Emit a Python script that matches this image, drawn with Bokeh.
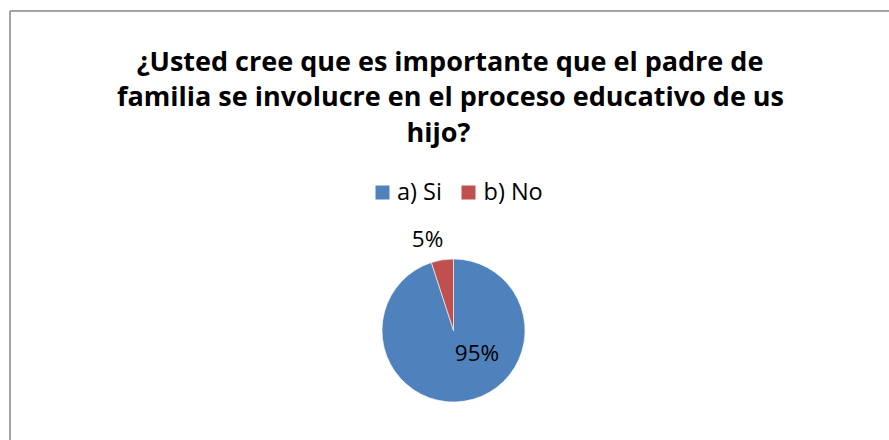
import numpy as np
from bokeh.plotting import figure
from bokeh.models import Range1d, ColumnDataSource
from bokeh.core.properties import value
from bokeh.embed import file_html
from bokeh.resources import INLINE

# ---- data ----
categories = ["a) Si", "b) No"]
percents = [95, 5]
colors = ["#4F81BD", "#C0504D"]
title_lines = [
    "¿Usted cree que es importante que el padre de",
    "familia se involucre en el proceso educativo de us",
    "hijo?",
]

FONT = "Open Sans"
W, H = 889, 440
p = figure(width=W, height=H, output_backend="svg", toolbar_location=None,
           x_range=Range1d(0, W), y_range=Range1d(0, H),
           min_border=0, outline_line_color=None)
p.axis.visible = False
p.grid.visible = False
p.background_fill_color = "white"
p.border_fill_color = "white"

def Y(img_y):
    return H - img_y

# chart area border (top & left visible, rest cut off by the window)
p.segment(x0=[9.5, 9.5], y0=[0, Y(10.5)], x1=[9.5, W], y1=[Y(10.5), Y(10.5)],
          line_color="#868686", line_width=1.5)

# title
title_x = [449.5, 450, 438]
title_base = [59.5, 95, 130.5]
for t, xx, yy in zip(title_lines, title_x, title_base):
    p.text(x=[xx], y=[Y(yy)], text=[t], text_font=value(FONT), text_font_style="bold",
           text_font_size="27px", text_align="center", text_baseline="alphabetic",
           text_color="black")

# pie
cx, cy, r = 453, Y(330), 71.5
vals = np.array(percents, dtype=float)
frac = vals / vals.sum()
ends = 2 * np.pi * np.cumsum(frac)
starts = np.concatenate([[0], ends[:-1]])
# clockwise from 12 o'clock
start_ang = np.pi / 2 - starts
end_ang = np.pi / 2 - ends
for i in range(len(categories)):
    src = ColumnDataSource(dict(x=[cx], y=[cy], s=[start_ang[i]], e=[end_ang[i]]))
    p.wedge(x="x", y="y", radius=r, radius_units="screen", start_angle="s", end_angle="e",
            direction="clock", fill_color=colors[i], line_color="white", line_width=0.6,
            source=src)

# data labels (Excel best-fit positions, offsets from pie centre)
label_offsets = [(23.5, -21.5), (-26, 92)]
lx = [cx + o[0] for o in label_offsets]
ly = [cy + o[1] for o in label_offsets]
labels = [f"{v}%" for v in percents]
p.text(x=lx, y=ly, text=labels, text_font=value(FONT), text_font_size="22.5px",
       text_align="center", text_baseline="alphabetic", text_color="black")

# legend (manual, Excel-like)
leg_sq_x = [382, 468]
leg_txt_x = [396.5, 483]
leg_y = 192
p.rect(x=leg_sq_x, y=[Y(leg_y)] * 2, width=14, height=14, width_units="screen",
       height_units="screen", fill_color=colors, line_color=None)
p.text(x=leg_txt_x, y=[Y(190.5)] * 2, text=categories, text_font=value(FONT),
       text_font_size="23.5px", text_align="left", text_baseline="alphabetic", text_color="black")

open("out.html", "w").write(file_html(p, INLINE))
